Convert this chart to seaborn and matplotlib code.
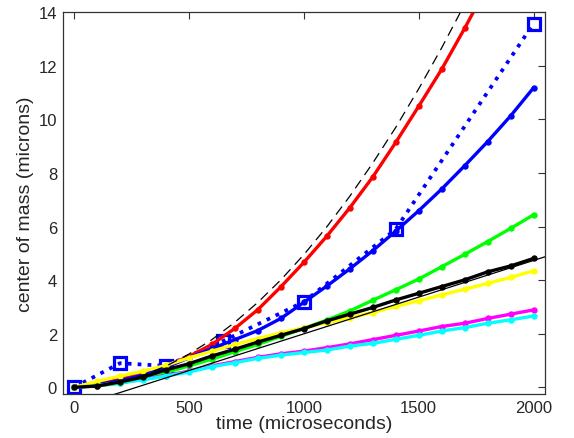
import numpy as np
import pandas as pd
import matplotlib
matplotlib.use("Agg")
import matplotlib.pyplot as plt
import seaborn as sns

time = [0, 100, 200, 300, 400, 500, 600, 700, 800, 900, 1000,
        1100, 1200, 1300, 1400, 1500, 1600, 1700, 1800, 1900, 2000]

red = [0, 0.12, 0.3, 0.52, 0.8, 1.15, 1.6, 2.2, 2.9, 3.75, 4.66,
       5.64, 6.7, 7.85, 9.14, 10.49, 11.87, 13.4, 15.0, 16.7, 18.5]
blue = [0, 0.1, 0.25, 0.45, 0.75, 1.1, 1.45, 1.78, 2.12, 2.57, 3.17,
        3.78, 4.42, 5.1, 5.83, 6.59, 7.4, 8.27, 9.17, 10.13, 11.18]
green = [0, 0.05, 0.15, 0.32, 0.55, 0.8, 1.05, 1.33, 1.6, 1.9, 2.2,
         2.51, 2.85, 3.25, 3.64, 4.04, 4.5, 4.96, 5.44, 5.93, 6.44]
black = [0, 0.05, 0.2, 0.38, 0.65, 0.88, 1.17, 1.42, 1.69, 1.94, 2.19,
         2.48, 2.73, 2.98, 3.26, 3.51, 3.76, 4.01, 4.31, 4.53, 4.81]
yellow = [0, 0.22, 0.42, 0.6, 0.82, 1.1, 1.35, 1.6, 1.82, 2.03, 2.22,
          2.41, 2.6, 2.79, 3.02, 3.23, 3.45, 3.66, 3.88, 4.1, 4.35]
magenta = [0, 0.06, 0.18, 0.3, 0.44, 0.6, 0.8, 0.96, 1.12, 1.25, 1.35,
           1.48, 1.62, 1.78, 1.94, 2.1, 2.27, 2.39, 2.57, 2.73, 2.89]
cyan = [0, 0.07, 0.17, 0.28, 0.42, 0.57, 0.77, 0.92, 1.08, 1.2, 1.3,
        1.39, 1.54, 1.64, 1.79, 1.94, 2.1, 2.23, 2.39, 2.52, 2.66]

exp_time = [0, 200, 400, 650, 1000, 1400, 2000]
exp_com = [0, 0.9, 0.8, 1.73, 3.19, 5.9, 13.58]

ref_time = [0, 100, 200, 300, 400, 500, 600, 700, 800, 900, 1000,
            1100, 1200, 1300, 1400, 1500, 1600, 1700, 1800]
ref_quad = [0, 0.05, 0.2, 0.45, 0.79, 1.24, 1.78, 2.43, 3.17, 4.01, 4.95,
            5.99, 7.13, 8.37, 9.7, 11.14, 12.67, 14.3, 16.0]

lin_time = [100, 2100]
lin_com = [-0.47, 5.01]

sns.set_style("white")
plt.rcParams["font.family"] = ["Liberation Sans", "DejaVu Sans"]

fig = plt.figure(figsize=(5.74, 4.39), dpi=100)
ax = fig.add_axes([0.109, 0.1002, 0.9495 - 0.109, 0.9697 - 0.1002])

lw = 2.4
ms = 4.6
sns.lineplot(x=exp_time, y=exp_com, ax=ax, color=(0, 0, 1), linestyle=":",
             linewidth=2.7, marker="s", markersize=9, markerfacecolor="none",
             markeredgecolor=(0, 0, 1), markeredgewidth=2.3, sort=False)

series = [(red, (1, 0, 0)), (blue, (0, 0, 1)), (green, (0, 1, 0)),
          (magenta, (1, 0, 1)), (cyan, (0, 1, 1)), (yellow, (1, 1, 0)),
          (black, (0, 0, 0))]
for vals, col in series:
    sns.lineplot(x=time, y=vals, ax=ax, color=col, linewidth=lw, marker="o",
                 markersize=ms, markeredgewidth=0, markerfacecolor=col)

sns.lineplot(x=ref_time, y=ref_quad, ax=ax, color="black", linewidth=0.9)
ax.lines[-1].set_dashes([8, 5])
sns.lineplot(x=lin_time, y=lin_com, ax=ax, color="black", linewidth=0.9)

ax.set_xlim(-50, 2050)
ax.set_ylim(-0.25, 14)
ax.set_xticks([0, 500, 1000, 1500, 2000])
ax.set_yticks([0, 2, 4, 6, 8, 10, 12, 14])
ax.tick_params(direction="in", length=5, width=0.8, top=True, right=True,
               labelsize=12, colors="#333333", labelcolor="#262626", pad=4)
for s in ax.spines.values():
    s.set_color("#333333")
    s.set_linewidth(0.9)
ax.set_xlabel("time (microseconds)", fontsize=14, color="#262626", labelpad=0)
ax.set_ylabel("center of mass (microns)", fontsize=14, color="#262626", labelpad=3)

fig.savefig("out.png", dpi=100)
